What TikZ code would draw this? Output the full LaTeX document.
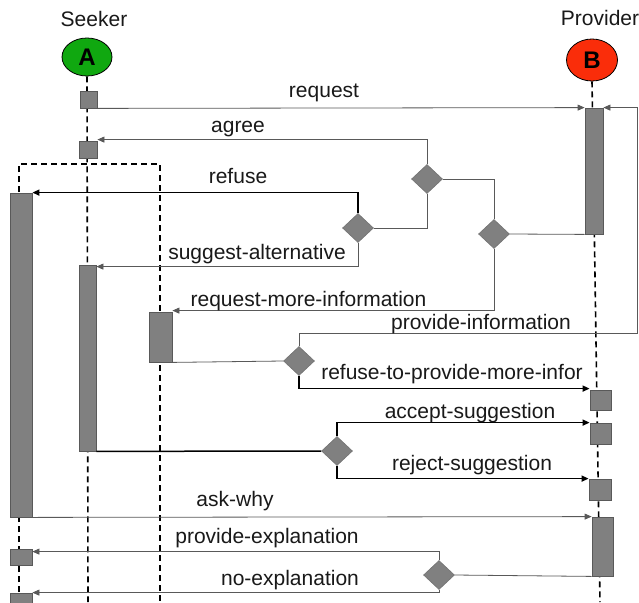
\documentclass[tikz,border=0pt]{standalone}
\usepackage{fontspec}
\setmainfont{Liberation Sans}
\usetikzlibrary{shapes.geometric,arrows.meta,calc}
\begin{document}
\begin{tikzpicture}[x=1pt,y=-1pt,
 lbl/.style={anchor=base,font=\fontsize{21}{24}\selectfont,inner sep=0pt,text=black!90},
 box/.style={draw=black!65,fill=black!50,line width=0.8pt,inner sep=0pt},
 dia/.style={diamond,draw=black!55,fill=black!50,line width=0.6pt,minimum width=31pt,minimum height=29pt,inner sep=0pt},
 life/.style={dash pattern=on 6pt off 4pt,line width=1.6pt},
 msg/.style={draw=black!65,line width=0.8pt},
 msgb/.style={draw=black,line width=1.5pt},
 arr/.style={-{Triangle[length=7pt,width=6pt]}},
 actor/.style={ellipse,draw=black,line width=0.8pt,inner sep=0pt,font=\fontsize{24}{26}\selectfont\bfseries},
]
\useasboundingbox (0,0) rectangle (639,602);
\fill[white] (0,0) rectangle (639,602);
\clip (0,0) rectangle (639,602);

% actors
\node[lbl] (seekerlbl) at (94,27) {Seeker};
\node[lbl] (providerlbl) at (600,26) {Provider};
\node[actor,fill={rgb,255:red,16;green,168;blue,16},minimum width=50pt,minimum height=38pt] (A) at (87,57) {A};
\node[actor,fill={rgb,255:red,250;green,45;blue,10},minimum width=51pt,minimum height=42pt] (B) at (592,60) {B};

% lifeline end points
\coordinate (abot) at (88,602);
\coordinate (bbot) at (600,602);
\coordinate (fl) at (19,602);
\coordinate (fltop) at (19,164);
\coordinate (frtop) at (160,164);
\coordinate (fr) at (160,602);
\coordinate (pi) at (637,333);

% lifelines
\draw[life] (A.south) -- (abot);
\draw[life] (B.south) -- (bbot);
\draw[life] (fl) -- (fltop) -- (frtop) -- (fr);

% seeker activations
\node[box,minimum width=17pt,minimum height=17pt] (sb1) at (88.5,99.5) {};
\node[box,minimum width=18pt,minimum height=17pt] (sb2) at (88,149.5) {};
\node[box,minimum width=22pt,minimum height=324pt] (sbig) at (21,355) {};
\node[box,minimum width=17pt,minimum height=186pt] (sbar2) at (87.5,358) {};
\node[box,minimum width=23pt,minimum height=50pt] (sbox) at (160.5,337) {};
\node[box,minimum width=22pt,minimum height=16pt] (sb4) at (21,557) {};
\node[box,minimum width=22pt,minimum height=17pt] (sb5) at (21,601.5) {};

% provider activations
\node[box,minimum width=18pt,minimum height=126pt] (pbar) at (594,171) {};
\node[box,minimum width=21pt,minimum height=20pt] (pb1) at (600.5,400) {};
\node[box,minimum width=21pt,minimum height=21pt] (pb2) at (600.5,433.5) {};
\node[box,minimum width=22pt,minimum height=21pt] (pb3) at (600,489.5) {};
\node[box,minimum width=21pt,minimum height=59pt] (pbar2) at (602.5,546.5) {};

% decisions
\node[dia] (d1) at (427,179) {};
\node[dia] (d2) at (494,234) {};
\node[dia] (d3) at (358,228) {};
\node[dia] (d4) at (299,361) {};
\node[dia] (d5) at (337,451) {};
\node[dia] (d6) at (439,575) {};

% messages
\draw[msg,arr] (sb1.south east) -- (pbar.north west);
\draw[msg,arr] (d4.north) |- (pi) |- (pbar.north east);
\draw[msg,arr] (d1.north) |- ($(sb2.north east)+(0,-1)$);
\draw[msg] (d1.east) -| (d2.north);
\draw[msg] (pbar.south west) -- (d2.east);
\draw[msg,arr] (d2.south) |- ($(sbox.north east)+(0,-1)$);
\draw[msg] (d1.south) |- (d3.east);
\draw[msgb,arr] (d3.north) |- (sbig.north east);
\draw[msg,arr] (d3.south) |- ($(sbar2.north east)+(0,2)$);
\draw[msg] (sbox.south east) -- (d4.west);
\draw[msgb,arr] (d4.south) |- ($(pb1.north west)+(0,-1)$);
\draw[msgb] (sbar2.south east) -- (d5.west);
\draw[msgb,arr] (d5.north) |- (pb2.north west);
\draw[msgb,arr] (d5.south) |- (pb3.north west);
\draw[msg,arr] (sbig.south east) -- (pbar2.north west);
\draw[msg] (pbar2.south west) -- (d6.east);
\draw[msg,arr] (d6.north) |- ($(sb4.north east)+(0,3)$);
\draw[msg,arr] (d6.south) |- (sb5.north east);

% labels
\node[lbl] (lrequest) at (324,97) {request};
\node[lbl] (lagree) at (238,132) {agree};
\node[lbl] (lrefuse) at (238,183) {refuse};
\node[lbl] (lsugg) at (257,259) {suggest-alternative};
\node[lbl] (lrmi) at (308.5,306) {request-more-information};
\node[lbl] (lpi) at (481,329) {provide-information};
\node[lbl] (lrtp) at (452,379) {refuse-to-provide-more-infor};
\node[lbl] (lacc) at (470,418) {accept-suggestion};
\node[lbl] (lrej) at (472,470) {reject-suggestion};
\node[lbl] (lask) at (235,506) {ask-why};
\node[lbl] (lpe) at (267,543) {provide-explanation};
\node[lbl] (lne) at (290,585) {no-explanation};
\end{tikzpicture}
\end{document}
